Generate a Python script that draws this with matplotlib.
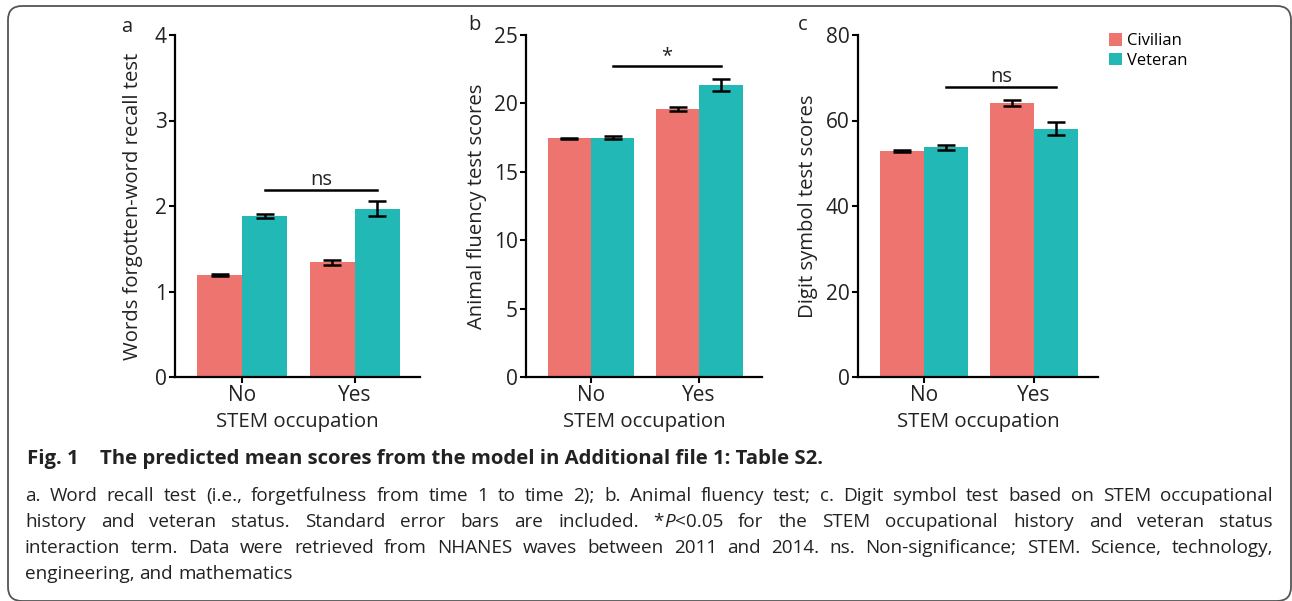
import numpy as np
import matplotlib
matplotlib.use('Agg')
import matplotlib.pyplot as plt
from matplotlib.patches import FancyBboxPatch

plt.rcParams['font.family'] = ['Open Sans', 'DejaVu Sans']

# data
groups = ['No', 'Yes']
recall_civilian = [1.19, 1.34]
recall_civilian_se = [0.01, 0.03]
recall_veteran = [1.88, 1.97]
recall_veteran_se = [0.025, 0.085]
fluency_civilian = [17.45, 19.6]
fluency_civilian_se = [0.05, 0.15]
fluency_veteran = [17.5, 21.35]
fluency_veteran_se = [0.1, 0.45]
digit_civilian = [52.9, 64.2]
digit_civilian_se = [0.3, 0.7]
digit_veteran = [53.7, 58.1]
digit_veteran_se = [0.5, 1.6]

CIV = '#EE746F'
VET = '#22B8B6'
INK = '#222222'

W, H = 1292, 601
fig = plt.figure(figsize=(W / 100, H / 100), dpi=100)

# background axes in pixel units (for frame + caption)
bg = fig.add_axes([0, 0, 1, 1])
bg.set_xlim(0, W)
bg.set_ylim(H, 0)
bg.axis('off')
bg.add_patch(FancyBboxPatch((8, 6), 1283, 595, boxstyle='round,pad=0,rounding_size=14',
                            fill=False, ec='#555555', lw=1.3, clip_on=False))


def panel(rect, civ, civ_se, vet, vet_se, ylim, ticks, ylabel, ylab_x, sig, sig_y):
    left, top, right, bottom = rect
    ax = fig.add_axes([left / W, 1 - bottom / H, (right - left) / W, (bottom - top) / H])
    x = np.arange(len(groups))
    ekw = dict(ecolor='black', elinewidth=1.8, capsize=6.8, capthick=1.8)
    b1 = ax.bar(x - 0.2, civ, 0.4, color=CIV, yerr=civ_se, error_kw=ekw, label='Civilian')
    b2 = ax.bar(x + 0.2, vet, 0.4, color=VET, yerr=vet_se, error_kw=ekw, label='Veteran')
    ax.set_xlim(-0.6, 1.58)
    ax.set_ylim(*ylim)
    ax.set_yticks(ticks)
    ax.set_xticks(x, groups)
    for s in ['top', 'right']:
        ax.spines[s].set_visible(False)
    for s in ['left', 'bottom']:
        ax.spines[s].set_linewidth(1.6)
        ax.spines[s].set_color('black')
    ax.tick_params(length=4, width=1.5, labelsize=15, pad=2, labelcolor=INK)
    ax.set_xlabel('STEM occupation', fontsize=14.7, color=INK, labelpad=4)
    ax.set_ylabel(ylabel, fontsize=14.6, color=INK, va='center')
    ax.yaxis.set_label_coords(ylab_x, 0.5)
    ax.plot([0.2, 1.2], [sig_y, sig_y], color='black', lw=1.8, clip_on=False)
    ax.text(0.7, sig_y, sig, ha='center', va='bottom', fontsize=14.5, color=INK)
    ax.patch.set_alpha(0)
    return b1, b2


panel((175, 35, 420, 377), recall_civilian, recall_civilian_se, recall_veteran, recall_veteran_se,
      (0, 4), [0, 1, 2, 3, 4], 'Words forgotten-word recall test', -0.17, 'ns', 2.19)
panel((526, 35, 762, 377), fluency_civilian, fluency_civilian_se, fluency_veteran, fluency_veteran_se,
      (0, 25), [0, 5, 10, 15, 20, 25], 'Animal fluency test scores', -0.207, '*', 22.75)
b1, b2 = panel((858, 35, 1098, 377), digit_civilian, digit_civilian_se, digit_veteran, digit_veteran_se,
               (0, 80), [0, 20, 40, 60, 80], 'Digit symbol test scores', -0.21, 'ns', 67.9)

for letter, lx, ly in [('a', 127, 27), ('b', 474, 25), ('c', 803, 25)]:
    bg.text(lx, ly, letter, fontsize=14.5, color=INK, ha='center', va='center')

fig.legend(handles=[b1, b2], labels=['Civilian', 'Veteran'], loc='upper left',
           bbox_to_anchor=(1109 / W, 1 - 33 / H), frameon=False, fontsize=12,
           handlelength=0.8, handleheight=0.8, handletextpad=0.3, labelspacing=0.2,
           borderpad=0, borderaxespad=0)

# caption
bg.text(27, 464, 'Fig. 1', fontsize=14.7, fontweight='bold', color=INK, va='baseline')
bg.text(100, 464, 'The predicted mean scores from the model in Additional file 1: Table S2.',
        fontsize=14.7, fontweight='bold', color=INK, va='baseline')

caption_lines = [
    'a. Word recall test (i.e., forgetfulness from time 1 to time 2); b. Animal fluency test; '
    'c. Digit symbol test based on STEM occupational',
    'history and veteran status. Standard error bars are included. *P<0.05 for the STEM '
    'occupational history and veteran status',
    'interaction term. Data were retrieved from NHANES waves between 2011 and 2014. ns. '
    'Non-significance; STEM. Science, technology,',
    'engineering, and mathematics',
]
italic_words = {'*P<0.05': [('*', 'normal'), ('P', 'italic'), ('<0.05', 'normal')]}
baselines = [501, 527, 553, 579]
x_left, x_right = 25, 1273
CAP_SIZE = 13.6
renderer = fig.canvas.get_renderer()

for i, (line, yb) in enumerate(zip(caption_lines, baselines)):
    words = []
    for w in line.split(' '):
        pieces = italic_words.get(w, [(w, 'normal')])
        objs = [bg.text(0, yb, txt, fontsize=CAP_SIZE, style=st, color=INK, va='baseline')
                for txt, st in pieces]
        words.append(objs)
    widths = [[t.get_window_extent(renderer).width for t in objs] for objs in words]
    total = sum(sum(ws) for ws in widths)
    if i < len(caption_lines) - 1:
        gap = (x_right - x_left - total) / (len(words) - 1)
    else:
        gap = CAP_SIZE * 0.36
    cx = x_left
    for objs, ws in zip(words, widths):
        for t, w in zip(objs, ws):
            t.set_x(cx)
            cx += w
        cx += gap

fig.savefig('out.png', dpi=100)
